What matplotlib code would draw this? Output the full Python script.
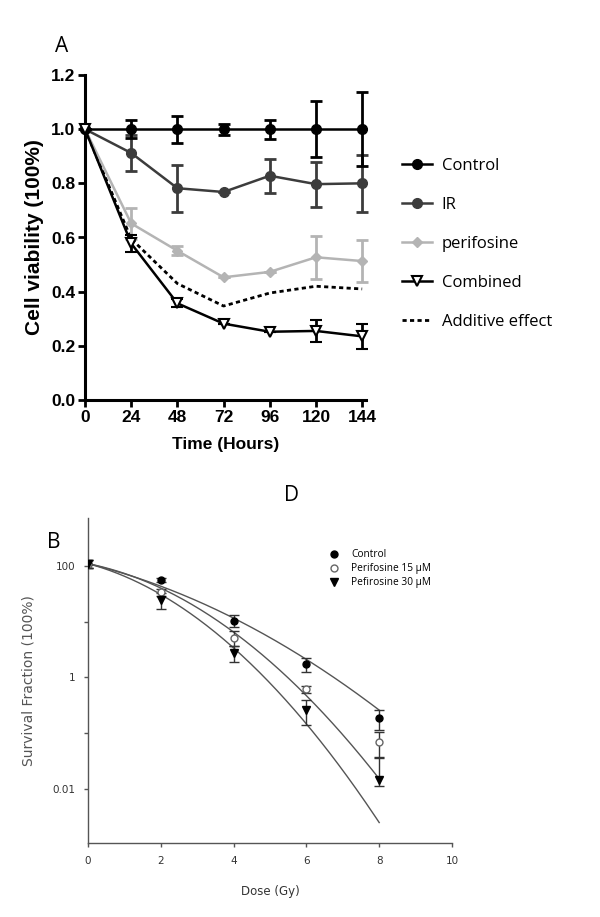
import numpy as np
import matplotlib
matplotlib.use("Agg")
import matplotlib.pyplot as plt
from matplotlib.lines import Line2D

# ---------------- Panel A data ----------------
hours = [0, 24, 48, 72, 96, 120, 144]
control_a = [1.0, 1.0, 1.0, 1.0, 1.0, 1.0, 1.0]
control_a_err = [0.0, 0.032, 0.05, 0.02, 0.035, 0.103, 0.136]
ir_a = [1.0, 0.912, 0.782, 0.768, 0.828, 0.797, 0.80]
ir_a_err = [0.0, 0.065, 0.087, 0.0, 0.063, 0.083, 0.105]
perif_a = [1.0, 0.652, 0.551, 0.453, 0.473, 0.527, 0.513]
perif_a_err = [0.0, 0.058, 0.016, 0.0, 0.0, 0.08, 0.076]
comb_a = [1.0, 0.578, 0.357, 0.282, 0.252, 0.255, 0.235]
comb_a_err = [0.0, 0.033, 0.015, 0.0, 0.0, 0.04, 0.046]
additive_a = [1.0, 0.595, 0.43, 0.347, 0.395, 0.42, 0.41]
legend_a = ["Control", "IR", "perifosine", "Combined", "Additive effect"]
yticks_a = [0.0, 0.2, 0.4, 0.6, 0.8, 1.0, 1.2]

# ---------------- Panel B data ----------------
dose = [0, 2, 4, 6, 8]
control_b = [110, 56, 10.5, 1.74, 0.19]
control_b_err = [20, 5, 2.6, 0.5, 0.075]
p15_b = [110, 34, 5.2, 0.61, 0.07]
p15_b_err_low = [20, 5, 1.5, 0.08, 0.032]
p15_b_err_high = [20, 5, 1.5, 0.08, 0.035]
p30_b = [110, 24.6, 2.76, 0.26, 0.0145]
p30_b_err_low = [20, 7.5, 0.9, 0.12, 0.003]
p30_b_err_high = [20, 7.5, 0.9, 0.14, 0.022]
# linear-quadratic fit parameters (S0, alpha, beta)
fit_control = [110, 0.369, 0.0484]
fit_p15 = [110, 0.303, 0.101]
fit_p30 = [110, 0.404, 0.1166]
legend_b = ["Control", "Perifosine 15 \u00b5M", "Pefirosine 30 \u00b5M"]

W, H = 600, 917
fig = plt.figure(figsize=(W / 100, H / 100), dpi=100)

def ax_px(l, t, r, b):
    return fig.add_axes([l / W, 1 - b / H, (r - l) / W, (b - t) / H])

SANS = "Liberation Sans"

# ---------------- Panel A ----------------
axA = ax_px(85, 75, 366, 400)
axA.set_xlim(0, 146)
axA.set_ylim(0, 1.2)
lw = 1.8
ekw = dict(elinewidth=2.0, capsize=4, capthick=2.0)
styles = [
    dict(color="black", marker="o", ms=7),
    dict(color="#3c3c3c", marker="o", ms=7),
    dict(color="#b4b4b4", marker="D", ms=5),
    dict(color="black", marker="v", ms=7, mfc="white", mec="black", mew=1.5),
]
series = [(control_a, control_a_err, 5), (ir_a, ir_a_err, 4), (perif_a, perif_a_err, 3), (comb_a, comb_a_err, 6)]
for (vals, err, z), st in zip(series, styles):
    axA.errorbar(hours, vals, yerr=err, lw=lw, clip_on=False, zorder=z, **st, **ekw)
add_ls = (0, (1.5, 1.2))
axA.plot(hours, additive_a, color="black", ls=add_ls, lw=2.0, zorder=2)

for s in ["top", "right"]:
    axA.spines[s].set_visible(False)
for s in ["left", "bottom"]:
    axA.spines[s].set_linewidth(2.2)
axA.set_xticks(hours)
axA.set_yticks(yticks_a)
axA.set_yticklabels([f"{v:.1f}" for v in yticks_a])
axA.tick_params(width=2.0, length=5, labelsize=12.5, pad=2)
for t in axA.get_xticklabels() + axA.get_yticklabels():
    t.set_fontfamily(SANS)
    t.set_fontweight("bold")
axA.set_xlabel("Time (Hours)", fontsize=12.5, fontweight="bold", fontfamily=SANS, labelpad=9)
axA.set_ylabel("Cell viability (100%)", fontsize=15, fontweight="bold", fontfamily=SANS, labelpad=5)
fig.text(55 / W, 1 - 47 / H, "A", fontsize=15, fontfamily="Open Sans", va="center", ha="left")

hA = [Line2D([], [], lw=lw, **st) for st in styles]
hA.append(Line2D([], [], color="black", ls=add_ls, lw=2.0))
fig.legend(hA, legend_a, loc="upper left", bbox_to_anchor=(395 / W, 1 - 151 / H), frameon=False,
           prop={"family": "Open Sans", "size": 12}, handlelength=1.8,
           labelspacing=1.38, handletextpad=0.6, borderaxespad=0)

# ---------------- Panel B ----------------
axB = ax_px(88, 518, 452, 843)
axB.set_xlim(0, 10)
axB.set_yscale("log")
axB.set_ylim(10 ** -2.97, 10 ** 2.86)

dd = np.linspace(0, 8, 200)
for p in (fit_control, fit_p15, fit_p30):
    axB.plot(dd, p[0] * np.exp(-p[1] * dd - p[2] * dd ** 2), color="#555555", lw=1.0, zorder=2)

ekwB = dict(elinewidth=1.0, capsize=3.5, capthick=1.0, ls="none", ecolor="#333333", zorder=4)
axB.errorbar(dose, control_b, yerr=control_b_err, marker="o", ms=5, color="black", **ekwB)
axB.errorbar(dose, p15_b, yerr=[p15_b_err_low, p15_b_err_high], marker="o", ms=5, mfc="white",
             mec="#666666", color="#666666", **ekwB)
axB.errorbar(dose, p30_b, yerr=[p30_b_err_low, p30_b_err_high], marker="v", ms=6, color="black", **ekwB)

for s in ["top", "right"]:
    axB.spines[s].set_visible(False)
for s in ["left", "bottom"]:
    axB.spines[s].set_linewidth(1.0)
    axB.spines[s].set_color("#555555")
axB.set_xticks([0, 2, 4, 6, 8, 10])
axB.set_yticks([0.01, 0.1, 1, 10, 100])
axB.set_yticklabels(["0.01", "", "1", "", "100"])
axB.yaxis.set_minor_locator(matplotlib.ticker.NullLocator())
axB.tick_params(width=1.0, length=3, labelsize=7.5, colors="#555555", labelcolor="#333333", pad=6)
axB.set_xlabel("Dose (Gy)", fontsize=8.5, color="#333333", labelpad=14)
axB.set_ylabel("Survival Fraction (100%)", fontsize=10, color="#555555", labelpad=12)
fig.text(47 / W, 1 - 542 / H, "B", fontsize=15, fontfamily="Open Sans", va="center", ha="left")
fig.text(291 / W, 1 - 495 / H, "D", fontsize=15, fontfamily="Open Sans", va="center", ha="center")

hB = [Line2D([], [], ls="none", marker="o", ms=5, color="black"),
      Line2D([], [], ls="none", marker="o", ms=5, mfc="white", mec="#666666"),
      Line2D([], [], ls="none", marker="v", ms=6, color="black")]
fig.legend(hB, legend_b, loc="upper left", bbox_to_anchor=(325 / W, 1 - 545 / H), frameon=False,
           prop={"family": "Open Sans", "size": 7.3}, handlelength=1.0, labelspacing=0.3,
           handletextpad=1.2, borderaxespad=0)

fig.savefig("out.png", dpi=100)
